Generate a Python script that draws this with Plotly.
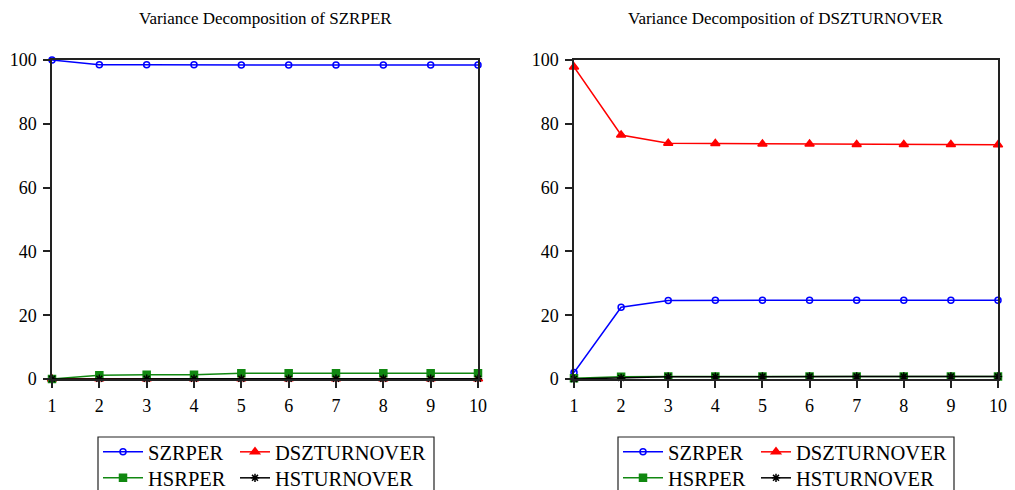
import plotly.graph_objects as go

periods = [1, 2, 3, 4, 5, 6, 7, 8, 9, 10]

# Left panel: Variance Decomposition of SZRPER
left_szrper = [100.0, 98.5, 98.5, 98.5, 98.4, 98.4, 98.4, 98.4, 98.4, 98.4]
left_dszturnover = [0.0, 0.05, 0.05, 0.05, 0.05, 0.05, 0.05, 0.05, 0.05, 0.05]
left_hsrper = [0.0, 1.2, 1.3, 1.3, 1.8, 1.8, 1.8, 1.8, 1.8, 1.8]
left_hsturnover = [0.0, 0.1, 0.1, 0.1, 0.1, 0.1, 0.1, 0.1, 0.1, 0.1]

# Right panel: Variance Decomposition of DSZTURNOVER
right_szrper = [2.0, 22.5, 24.6, 24.7, 24.7, 24.7, 24.7, 24.7, 24.7, 24.7]
right_dszturnover = [97.8, 76.5, 73.9, 73.8, 73.7, 73.7, 73.5, 73.5, 73.5, 73.4]
right_hsrper = [0.2, 0.7, 0.8, 0.8, 0.8, 0.8, 0.8, 0.8, 0.8, 0.8]
right_hsturnover = [0.0, 0.3, 0.7, 0.7, 0.8, 0.8, 0.8, 0.8, 0.8, 0.8]

series_names = ["SZRPER", "DSZTURNOVER", "HSRPER", "HSTURNOVER"]
y_ticks = [0, 20, 40, 60, 80, 100]
titles = ["Variance Decomposition of SZRPER", "Variance Decomposition of DSZTURNOVER"]

colors = ["#0000FF", "#FF0000", "#118811", "#000000"]
symbols = ["circle-open", "triangle-up", "square", "asterisk-open"]
msizes = [6, 8, 7, 7]

FONT = "Liberation Serif, Times New Roman, serif"

W, H = 1015, 490
def px_x(p): return p / W
def px_y(p): return 1 - p / H

# legend entry placement (pixels): (x of entry, y top of entry, item width)
legend_slots = {
    0: [(98, 432, 40), (235, 432, 30), (98, 458, 40), (235, 458, 30)],
    1: [(618, 432, 40), (756, 432, 30), (618, 458, 40), (756, 458, 30)],
}

fig = go.Figure()

panels = [
    ([left_szrper, left_dszturnover, left_hsrper, left_hsturnover], "x", "y"),
    ([right_szrper, right_dszturnover, right_hsrper, right_hsturnover], "x2", "y2"),
]
legend_layouts = {}
k = 0
for p, (data, xa, ya) in enumerate(panels):
    for i, (name, vals) in enumerate(zip(series_names, data)):
        k += 1
        lname = "legend" if k == 1 else f"legend{k}"
        lx, ly, iw = legend_slots[p][i]
        legend_layouts[lname] = dict(
            x=px_x(lx), y=px_y(ly), xanchor="left", yanchor="top",
            orientation="h", borderwidth=0, bgcolor="rgba(0,0,0,0)",
            font=dict(family=FONT, size=20.5, color="#000000"),
            itemwidth=iw,
        )
        fig.add_trace(go.Scatter(
            x=periods, y=vals, name=name, mode="lines+markers",
            xaxis=xa, yaxis=ya, legend=lname,
            line=dict(color=colors[i], width=1.5),
            marker=dict(symbol=symbols[i], color=colors[i], size=msizes[i],
                        line=dict(color=colors[i], width=1.5)),
            cliponaxis=False,
        ))

axis_common = dict(
    showline=True, mirror=True, linecolor="#222222", linewidth=1.5,
    ticks="outside", ticklen=7, tickcolor="#222222", tickwidth=1.5,
    ticklabelstandoff=3,
    showgrid=False, zeroline=False,
    tickfont=dict(family=FONT, size=18, color="#000000"),
)

fig.update_layout(
    width=W, height=H,
    margin=dict(l=0, r=0, t=0, b=0, autoexpand=False),
    paper_bgcolor="white", plot_bgcolor="white",
    showlegend=True,
    xaxis=dict(domain=[px_x(52), px_x(478)], range=[1, 10], tickvals=periods, anchor="y", **axis_common),
    yaxis=dict(domain=[px_y(379), px_y(60)], range=[0, 100], tickvals=y_ticks, anchor="x", **axis_common),
    xaxis2=dict(domain=[px_x(574), px_x(998)], range=[1, 10], tickvals=periods, anchor="y2", **axis_common),
    yaxis2=dict(domain=[px_y(379), px_y(60)], range=[0, 100], tickvals=y_ticks, anchor="x2", **axis_common),
    shapes=[
        dict(type="rect", xref="paper", yref="paper",
             x0=px_x(98), x1=px_x(434), y0=px_y(500), y1=px_y(437),
             line=dict(color="#222222", width=1.2), fillcolor="rgba(0,0,0,0)", layer="below"),
        dict(type="rect", xref="paper", yref="paper",
             x0=px_x(618), x1=px_x(954), y0=px_y(500), y1=px_y(437),
             line=dict(color="#222222", width=1.2), fillcolor="rgba(0,0,0,0)", layer="below"),
    ],
    annotations=[
        dict(text=titles[0], x=px_x(265), y=px_y(18), xref="paper", yref="paper",
             xanchor="center", yanchor="middle",
             showarrow=False, font=dict(family=FONT, size=17, color="#000000")),
        dict(text=titles[1], x=px_x(786), y=px_y(18), xref="paper", yref="paper",
             xanchor="center", yanchor="middle",
             showarrow=False, font=dict(family=FONT, size=17, color="#000000")),
    ],
    **legend_layouts,
)

fig.write_html("out.html")
